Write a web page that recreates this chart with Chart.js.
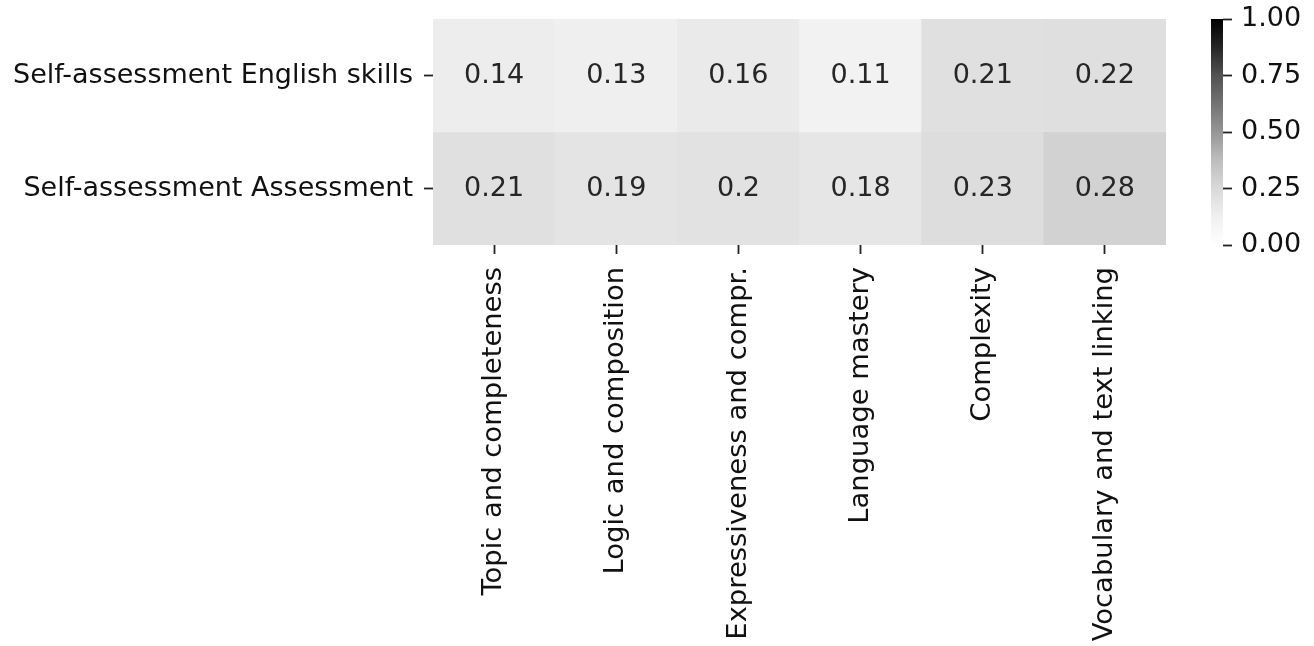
<!DOCTYPE html>
<html>
<head>
<meta charset="utf-8">
<script src="https://cdn.jsdelivr.net/npm/chart.js@4"></script>
<style>
  body { margin: 0; background: #fff; }
  #wrap { position: relative; width: 1314px; height: 646px; }
  canvas { position: absolute; left: 0; top: 0; }
</style>
</head>
<body>
<div id="wrap">
  <canvas id="heat" width="1314" height="646"></canvas>
  <canvas id="cbar" width="1314" height="646"></canvas>
</div>
<script>
// filas y columnas del mapa de calor
var rowLabels = ["Self-assessment English skills", "Self-assessment Assessment"];
var colLabels = ["Topic and completeness", "Logic and composition", "Expressiveness and compr.",
                 "Language mastery", "Complexity", "Vocabulary and text linking"];
var englishSkills = [0.14, 0.13, 0.16, 0.11, 0.21, 0.22];
var assessment = [0.21, 0.19, 0.2, 0.18, 0.23, 0.28];
var cbarTicks = [0, 0.25, 0.5, 0.75, 1];

var rows = [englishSkills, assessment];

// paleta "Greys" (0 = blanco, 1 = negro)
var greys = [255, 240, 217, 189, 150, 115, 82, 37, 0];
function greyColor(v) {
  var p = Math.max(0, Math.min(1, v)) * 8;
  var i = Math.min(7, Math.floor(p));
  var g = Math.round(greys[i] + (greys[i + 1] - greys[i]) * (p - i));
  return "rgb(" + g + "," + g + "," + g + ")";
}

Chart.defaults.font.family = "DejaVu Sans";
Chart.defaults.font.size = 27;
Chart.defaults.color = "#111";
Chart.defaults.animation = false;

// texto de cada celda
var cellText = {
  id: "cellText",
  afterDatasetsDraw: function (chart) {
    var ctx = chart.ctx;
    ctx.save();
    ctx.font = "27px 'DejaVu Sans'";
    ctx.fillStyle = "#262626";
    ctx.textAlign = "center";
    ctx.textBaseline = "middle";
    chart.data.datasets.forEach(function (ds, d) {
      chart.getDatasetMeta(d).data.forEach(function (bar, i) {
        ctx.fillText(String(rows[d][i]), bar.x, (bar.y + bar.base) / 2);
      });
    });
    ctx.restore();
  }
};

var tickGrid = { drawOnChartArea: false, tickLength: 9, tickWidth: 1.8, tickColor: "#222", offset: false };

// sin relleno extra arriba/abajo por las etiquetas
function noPad(s) { s.paddingTop = 0; s.paddingBottom = 0; }

// mapa de calor
new Chart(document.getElementById("heat"), {
  type: "bar",
  data: {
    labels: colLabels,
    datasets: rows.map(function (vals, r) {
      return {
        label: rowLabels[r],
        data: vals.map(function () { return [r, r + 1]; }),
        backgroundColor: vals.map(greyColor),
        borderWidth: 0,
        barPercentage: 1,
        categoryPercentage: 1,
        grouped: false
      };
    })
  },
  options: {
    responsive: false,
    layout: { padding: { top: 19, right: 148, left: 0, bottom: 0 } },
    plugins: { legend: { display: false }, tooltip: { enabled: false } },
    scales: {
      x: {
        grid: tickGrid,
        border: { display: false },
        ticks: { autoSkip: false, minRotation: 90, maxRotation: 90, padding: 13, font: { size: 27.4 } },
        afterFit: function (s) { s.height = 401; }
      },
      y: {
        min: 0, max: 2, reverse: true,
        afterBuildTicks: function (s) { s.ticks = [{ value: 0.5 }, { value: 1.5 }]; },
        ticks: { padding: 11, callback: function (v) { return rowLabels[Math.floor(v)]; } },
        grid: tickGrid,
        border: { display: false },
        afterFit: function (s) { s.width = 433; noPad(s); }
      }
    }
  },
  plugins: [cellText]
});

// barra de color
new Chart(document.getElementById("cbar"), {
  type: "bar",
  data: {
    labels: [""],
    datasets: [{
      data: [[cbarTicks[0], cbarTicks[cbarTicks.length - 1]]],
      backgroundColor: function (c) {
        var area = c.chart.chartArea;
        if (!area) return null;
        var g = c.chart.ctx.createLinearGradient(0, area.bottom, 0, area.top);
        greys.forEach(function (v, i) { g.addColorStop(i / 8, "rgb(" + v + "," + v + "," + v + ")"); });
        return g;
      },
      borderWidth: 0,
      barPercentage: 1,
      categoryPercentage: 1
    }]
  },
  options: {
    responsive: false,
    layout: { padding: { left: 1211, top: 19, bottom: 401, right: 0 } },
    plugins: { legend: { display: false }, tooltip: { enabled: false } },
    scales: {
      x: { display: false },
      y: {
        position: "right",
        min: 0, max: 1,
        afterBuildTicks: function (s) { s.ticks = cbarTicks.map(function (v) { return { value: v }; }); },
        ticks: { padding: 9, callback: function (v) { return v.toFixed(2); } },
        grid: tickGrid,
        border: { display: false },
        afterFit: function (s) { s.width = 91; noPad(s); }
      }
    }
  }
});
</script>
</body>
</html>
